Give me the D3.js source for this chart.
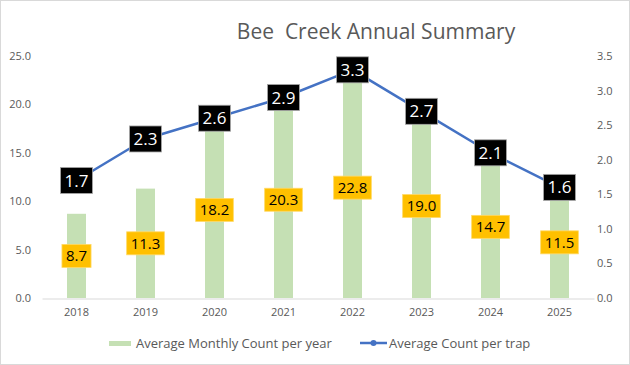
<!DOCTYPE html>
<html>
<head>
<meta charset="utf-8">
<script src="https://cdn.jsdelivr.net/npm/d3@7"></script>
<style>
  html, body { margin: 0; padding: 0; background: #fff; }
  svg { display: block; font-family: "Open Sans", "Liberation Sans", sans-serif; }
</style>
</head>
<body>
<svg id="chart" width="630" height="365"></svg>
<script>
const years = ["2018", "2019", "2020", "2021", "2022", "2023", "2024", "2025"];
const monthlyCount = [8.7, 11.3, 18.2, 20.3, 22.8, 19.0, 14.7, 11.5];
const trapCount = [1.7, 2.3, 2.6, 2.9, 3.3, 2.7, 2.1, 1.6];
const leftTicks = [0, 5, 10, 15, 20, 25];
const rightTicks = [0, 0.5, 1, 1.5, 2, 2.5, 3, 3.5];
const titleText = "Bee  Creek Annual Summary";
const barLegend = "Average Monthly Count per year";
const lineLegend = "Average Count per trap";

const svg = d3.select("#chart");
const W = 630, H = 365;
const plot = { left: 42, right: 594, top: 56, bottom: 298 };

svg.append("rect").attr("x", 0.5).attr("y", 0.5).attr("width", W - 1).attr("height", H - 1)
  .attr("fill", "#fff").attr("stroke", "#d9d9d9");

const x = d3.scaleBand().domain(years).range([plot.left, plot.right]).padding(0);
const yL = d3.scaleLinear().domain([0, 25]).range([plot.bottom, plot.top]);
const yR = d3.scaleLinear().domain([0, 3.5]).range([plot.bottom, plot.top]);

// Title
svg.append("text").attr("x", 376).attr("y", 39).attr("text-anchor", "middle")
  .attr("font-size", 21).attr("fill", "#595959").attr("xml:space", "preserve")
  .style("white-space", "pre").text(titleText);

// Left axis
const axL = d3.axisLeft(yL).tickValues(leftTicks).tickFormat(d3.format(".1f")).tickSize(0).tickPadding(0);
const gL = svg.append("g").attr("transform", `translate(31,0)`).call(axL);
gL.select(".domain").remove();
gL.selectAll("text").attr("font-size", 11).attr("fill", "#595959").attr("font-family", "Open Sans, sans-serif");

// Right axis
const axR = d3.axisRight(yR).tickValues(rightTicks).tickFormat(d3.format(".1f")).tickSize(0).tickPadding(0);
const gR = svg.append("g").attr("transform", `translate(597,0)`).call(axR);
gR.select(".domain").remove();
gR.selectAll("text").attr("font-size", 11).attr("fill", "#595959").attr("font-family", "Open Sans, sans-serif");

// Bars
const barW = 19;
svg.append("g").selectAll("rect").data(years).join("rect")
  .attr("x", d => x(d) + x.bandwidth() / 2 - barW / 2)
  .attr("y", (d, i) => yL(monthlyCount[i]))
  .attr("width", barW)
  .attr("height", (d, i) => yL(0) - yL(monthlyCount[i]))
  .attr("fill", "#c5e0b4");

// Bottom axis
const axB = d3.axisBottom(x).tickSize(0).tickPadding(10);
const gB = svg.append("g").attr("transform", `translate(0,${plot.bottom + 0.5})`).call(axB);
gB.select(".domain").attr("stroke", "#d9d9d9").attr("stroke-width", 1);
gB.selectAll("text").attr("font-size", 11).attr("fill", "#595959").attr("font-family", "Open Sans, sans-serif");

// Line
const cx = d => x(d) + x.bandwidth() / 2;
const line = d3.line().x((d, i) => cx(years[i])).y(d => yR(d));
svg.append("path").datum(trapCount).attr("d", line)
  .attr("fill", "none").attr("stroke", "#4472c4").attr("stroke-width", 2.5).attr("stroke-linejoin", "round");
svg.append("g").selectAll("circle").data(trapCount).join("circle")
  .attr("cx", (d, i) => cx(years[i])).attr("cy", d => yR(d)).attr("r", 3).attr("fill", "#4472c4");

// Bar labels (orange)
const fmt = d3.format(".1f");
const barLbl = svg.append("g").selectAll("g").data(monthlyCount).join("g")
  .attr("transform", (d, i) => `translate(${cx(years[i])},${(yL(d) + yL(0)) / 2})`);
barLbl.append("text").attr("text-anchor", "middle").attr("dy", "0.35em")
  .attr("font-size", 15).attr("fill", "#000").attr("font-family", "Open Sans, sans-serif").text(d => fmt(d));
barLbl.each(function() {
  const g = d3.select(this);
  const bb = g.select("text").node().getBBox();
  g.insert("rect", "text").attr("x", -bb.width / 2 - 4).attr("y", -11.5)
    .attr("width", bb.width + 8).attr("height", 23)
    .attr("fill", "#ffc000").attr("stroke", "#ffd966").attr("stroke-width", 0.8);
});

// Line labels (black)
const lineLbl = svg.append("g").selectAll("g").data(trapCount).join("g")
  .attr("transform", (d, i) => `translate(${cx(years[i])},${yR(d)})`);
lineLbl.append("text").attr("text-anchor", "middle").attr("dy", "0.36em")
  .attr("font-size", 17).attr("fill", "#fff").attr("font-family", "Open Sans, sans-serif").text(d => fmt(d));
lineLbl.each(function() {
  const g = d3.select(this);
  const bb = g.select("text").node().getBBox();
  g.insert("rect", "text").attr("x", -bb.width / 2 - 4).attr("y", -13)
    .attr("width", bb.width + 8).attr("height", 26)
    .attr("fill", "#000").attr("stroke", "#a6a6a6").attr("stroke-width", 0.8);
});

// Legend
const lg = svg.append("g");
lg.append("rect").attr("x", 109).attr("y", 341).attr("width", 22).attr("height", 5).attr("fill", "#c5e0b4");
lg.append("text").attr("x", 136).attr("y", 343).attr("dy", "0.35em").attr("font-size", 13)
  .attr("fill", "#595959").text(barLegend);
lg.append("line").attr("x1", 360).attr("x2", 387).attr("y1", 343).attr("y2", 343)
  .attr("stroke", "#4472c4").attr("stroke-width", 2.5);
lg.append("circle").attr("cx", 373.5).attr("cy", 343).attr("r", 3).attr("fill", "#4472c4");
lg.append("text").attr("x", 389).attr("y", 343).attr("dy", "0.35em").attr("font-size", 13)
  .attr("fill", "#595959").text(lineLegend);
</script>
</body>
</html>
